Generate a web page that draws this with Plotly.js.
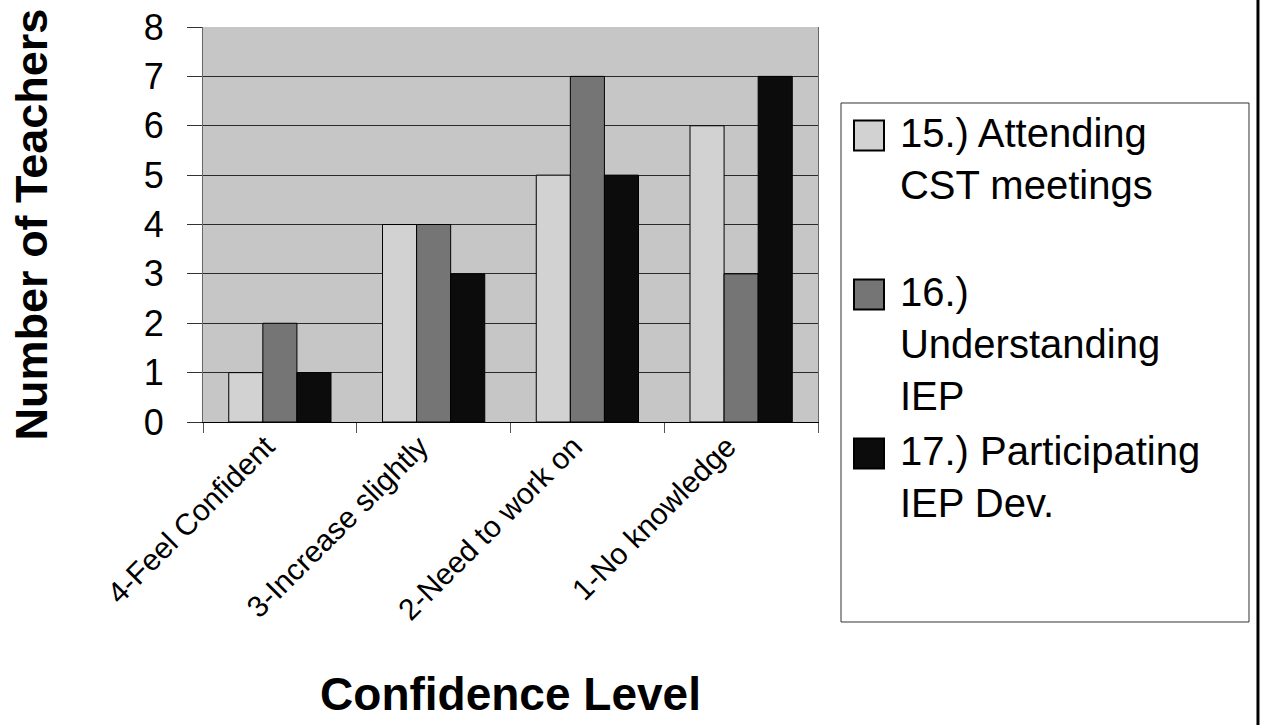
<!DOCTYPE html>
<html>
<head>
<meta charset="utf-8">
<script src="https://cdn.plot.ly/plotly-3.0.1.min.js"></script>
<style>
  html, body { margin: 0; padding: 0; background: #ffffff; }
  #chart { width: 1261px; height: 725px; }
</style>
</head>
<body>
<div id="chart"></div>
<script>
// ---- data ----
var categories = ['4-Feel Confident', '3-Increase slightly', '2-Need to work on', '1-No knowledge'];
var attendingCST = [1, 4, 5, 6];
var understandingIEP = [2, 4, 7, 3];
var participatingIEP = [1, 3, 5, 7];
var seriesNames = ['15.) Attending<br>CST meetings<br> ', '16.)<br>Understanding<br>IEP', '17.) Participating<br>IEP Dev.'];
var yTickValues = [0, 1, 2, 3, 4, 5, 6, 7, 8];
var xTitle = 'Confidence Level';
var yTitle = 'Number of Teachers';

var FONT = 'Liberation Sans, Arial, Helvetica, sans-serif';
var seriesColors = ['#d2d2d2', '#757575', '#0c0c0c'];
var seriesValues = [attendingCST, understandingIEP, participatingIEP];

var traces = seriesValues.map(function (vals, i) {
  return {
    type: 'bar',
    x: categories,
    y: vals,
    name: seriesNames[i],
    marker: { color: seriesColors[i], line: { color: '#000000', width: 1 } },
    hoverinfo: 'x+y+name'
  };
});

var layout = {
  width: 1261,
  height: 725,
  paper_bgcolor: '#ffffff',
  plot_bgcolor: '#c6c6c6',
  margin: { l: 203, r: 443, t: 27, b: 303, autoexpand: false },
  barmode: 'group',
  bargap: 0.335,
  bargroupgap: 0,
  font: { family: FONT, color: '#000000' },
  xaxis: {
    type: 'category',
    tickangle: -45,
    ticks: 'outside',
    tickson: 'boundaries',
    ticklen: 10,
    tickcolor: '#555555',
    ticklabelshift: -14,
    ticklabelstandoff: -6,
    tickfont: { family: FONT, size: 30, color: '#000000' },
    showline: true,
    linecolor: '#000000',
    linewidth: 1,
    showgrid: false,
    automargin: false,
    title: { text: '<b>' + xTitle + '</b>', font: { family: FONT, size: 46, color: '#000000' }, standoff: 52 }
  },
  yaxis: {
    range: [0, 8],
    tickvals: yTickValues,
    ticks: 'outside',
    ticklen: 15,
    tickcolor: '#333333',
    ticklabelstandoff: 16,
    tickfont: { family: FONT, size: 36, color: '#000000' },
    showgrid: true,
    gridcolor: '#2a2a2a',
    gridwidth: 1,
    zeroline: false,
    showline: true,
    linecolor: '#666666',
    linewidth: 1,
    mirror: true,
    automargin: false,
    title: { text: '<b>' + yTitle + '</b>', font: { family: FONT, size: 45, color: '#000000' }, standoff: 82 }
  },
  showlegend: true,
  legend: {
    x: 1.052,
    xanchor: 'left',
    y: 0.818,
    yanchor: 'top',
    maxheight: 600,
    itemwidth: 40,
    bgcolor: 'rgba(0,0,0,0)',
    borderwidth: 0,
    valign: 'top',
    traceorder: 'normal',
    font: { family: FONT, size: 40, color: '#000000' }
  },
  shapes: [
    { type: 'rect', xref: 'paper', yref: 'paper', x0: 1.0374, x1: 1.7008, y0: -0.5063, y1: 0.8076,
      line: { color: '#333333', width: 1 }, fillcolor: 'rgba(0,0,0,0)' },
    { type: 'line', xref: 'paper', yref: 'paper', x0: 1.7154, x1: 1.7154, y0: -0.77, y1: 1.07,
      line: { color: '#000000', width: 3 } }
  ]
};

Plotly.newPlot('chart', traces, layout, { displayModeBar: false, staticPlot: true }).then(function (gd) {
  var gr = gd.getBoundingClientRect();
  var paths = gd.querySelectorAll('.legend .legendpoints path');
  paths.forEach(function (p) {
    var t = p.getAttribute('transform') || '';
    var r0 = p.getBoundingClientRect();
    var cx = r0.left + r0.width / 2 - gr.left;
    var cy = r0.top + r0.height / 2 - gr.top;
    var dx = 869 - cx;
    var dy = 4;
    p.setAttribute('transform', t + ' translate(' + dx + ',' + dy + ') scale(2.5)');
    p.setAttribute('vector-effect', 'non-scaling-stroke');
    p.style.strokeWidth = '2px';
  });
});
</script>
</body>
</html>
